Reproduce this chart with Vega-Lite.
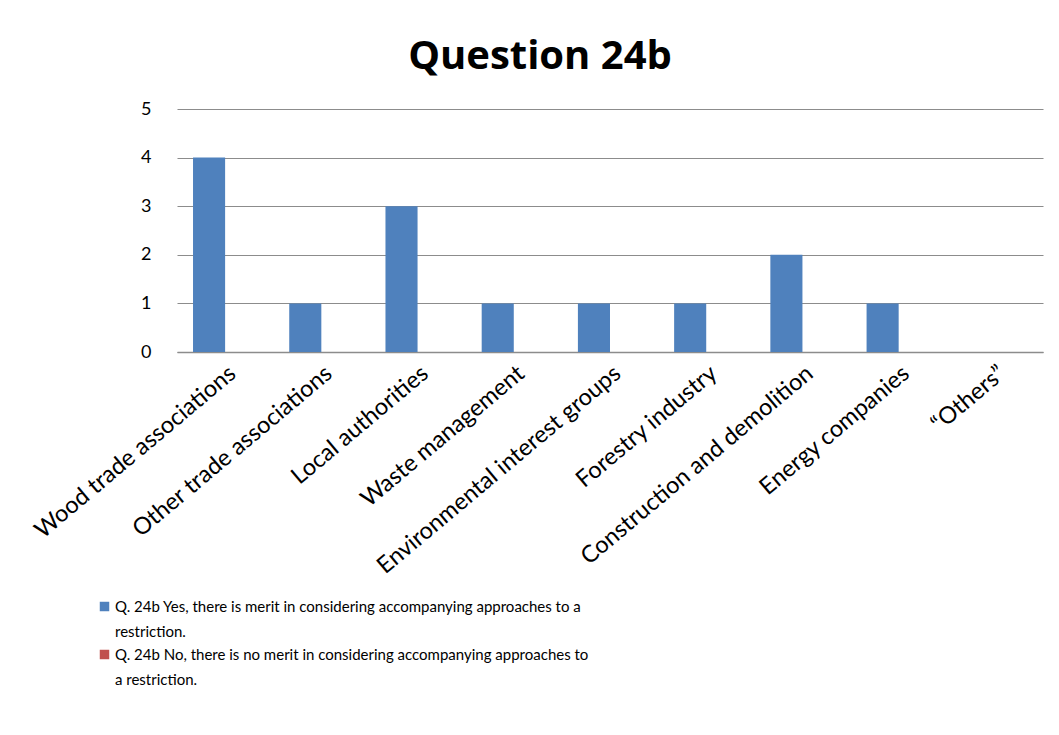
{
  "$schema": "https://vega.github.io/schema/vega-lite/v6.json",
  "autosize": {"type": "none"},
  "width": 866,
  "height": 243,
  "padding": {"left": 177, "top": 109, "right": 16, "bottom": 383},
  "background": "white",
  "title": {"text": "Question 24b", "font": "Open Sans", "fontSize": 40, "fontWeight": "bold", "color": "#000000", "anchor": "middle", "dx": -70, "offset": 23},
  "data": {"values": [
    {"category": "Wood trade associations", "series": "Q. 24b Yes, there is merit in considering accompanying approaches to a restriction.", "value": 4},
    {"category": "Other trade associations", "series": "Q. 24b Yes, there is merit in considering accompanying approaches to a restriction.", "value": 1},
    {"category": "Local authorities", "series": "Q. 24b Yes, there is merit in considering accompanying approaches to a restriction.", "value": 3},
    {"category": "Waste management", "series": "Q. 24b Yes, there is merit in considering accompanying approaches to a restriction.", "value": 1},
    {"category": "Environmental interest groups", "series": "Q. 24b Yes, there is merit in considering accompanying approaches to a restriction.", "value": 1},
    {"category": "Forestry industry", "series": "Q. 24b Yes, there is merit in considering accompanying approaches to a restriction.", "value": 1},
    {"category": "Construction and demolition", "series": "Q. 24b Yes, there is merit in considering accompanying approaches to a restriction.", "value": 2},
    {"category": "Energy companies", "series": "Q. 24b Yes, there is merit in considering accompanying approaches to a restriction.", "value": 1},
    {"category": "“Others”", "series": "Q. 24b Yes, there is merit in considering accompanying approaches to a restriction.", "value": 0},
    {"category": "Wood trade associations", "series": "Q. 24b No, there is no merit in considering accompanying approaches to a restriction.", "value": 0},
    {"category": "Other trade associations", "series": "Q. 24b No, there is no merit in considering accompanying approaches to a restriction.", "value": 0},
    {"category": "Local authorities", "series": "Q. 24b No, there is no merit in considering accompanying approaches to a restriction.", "value": 0},
    {"category": "Waste management", "series": "Q. 24b No, there is no merit in considering accompanying approaches to a restriction.", "value": 0},
    {"category": "Environmental interest groups", "series": "Q. 24b No, there is no merit in considering accompanying approaches to a restriction.", "value": 0},
    {"category": "Forestry industry", "series": "Q. 24b No, there is no merit in considering accompanying approaches to a restriction.", "value": 0},
    {"category": "Construction and demolition", "series": "Q. 24b No, there is no merit in considering accompanying approaches to a restriction.", "value": 0},
    {"category": "Energy companies", "series": "Q. 24b No, there is no merit in considering accompanying approaches to a restriction.", "value": 0},
    {"category": "“Others”", "series": "Q. 24b No, there is no merit in considering accompanying approaches to a restriction.", "value": 0}
  ]},
  "mark": {"type": "bar"},
  "encoding": {
    "x": {
      "field": "category", "type": "nominal", "sort": null, "title": null,
      "scale": {"paddingInner": 0.333, "paddingOuter": 0.1665},
      "axis": {"labelAngle": -40, "labelFont": "Lato", "labelFontSize": 23.5, "labelColor": "#000000", "labelPadding": 9, "ticks": false, "domainColor": "#8c8c8c", "domainWidth": 1.5, "labelLimit": 400}
    },
    "xOffset": {
      "field": "series", "type": "nominal",
      "sort": ["Q. 24b Yes, there is merit in considering accompanying approaches to a restriction.", "Q. 24b No, there is no merit in considering accompanying approaches to a restriction."],
      "scale": {"paddingInner": 0, "paddingOuter": 0}
    },
    "y": {
      "field": "value", "type": "quantitative", "title": null,
      "scale": {"domain": [0, 5]},
      "axis": {"values": [0, 1, 2, 3, 4, 5], "ticks": false, "domain": false, "labelFont": "Lato", "labelFontSize": 18, "labelColor": "#000000", "labelPadding": 26, "gridColor": "#8c8c8c", "gridWidth": 1.2}
    },
    "color": {
      "field": "series", "type": "nominal",
      "sort": ["Q. 24b Yes, there is merit in considering accompanying approaches to a restriction.", "Q. 24b No, there is no merit in considering accompanying approaches to a restriction."],
      "scale": {"range": ["#4F81BD", "#C0504D"]},
      "legend": {
        "title": null, "orient": "none", "legendX": -80, "legendY": 490,
        "symbolType": "square", "symbolSize": 90, "symbolStrokeWidth": 0,
        "labelFont": "Lato", "labelFontSize": 15, "labelColor": "#000000", "labelLimit": 900, "labelOffset": 3,
        "labelExpr": "indexof(datum.label, 'Yes') >= 0 ? ['Q. 24b Yes, there is merit in considering accompanying approaches to a', 'restriction.'] : ['Q. 24b No, there is no merit in considering accompanying approaches to', 'a restriction.']",
        "rowPadding": 7
      }
    }
  },
  "config": {
    "view": {"stroke": null},
    "style": {"guide-label": {"lineHeight": 25}}
  }
}
